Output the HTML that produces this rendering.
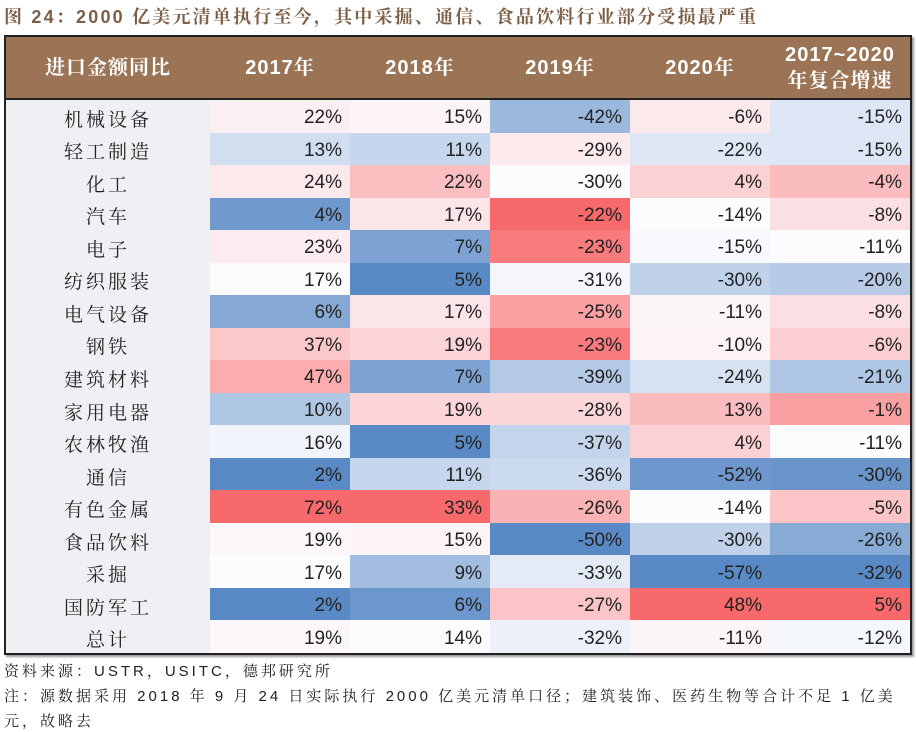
<!DOCTYPE html>
<html><head><meta charset="utf-8">
<style>
body{margin:0;width:916px;height:732px;background:#fff;font-family:"Liberation Sans","Noto Sans CJK SC",sans-serif;overflow:hidden;position:relative}
#title{position:absolute;left:4px;top:3px;font-size:18px;letter-spacing:2.2px;font-weight:bold;color:#7d5f47;white-space:nowrap;font-family:"Liberation Sans","Noto Serif CJK SC",serif}
#tbl{position:absolute;left:4px;top:35px;width:908px;height:620px;border:2px solid #222;box-sizing:border-box;box-shadow:2px 2px 2px #999}
.hdr{position:absolute;top:0;height:63px;background:#9b7355;border-bottom:2px solid #222;box-sizing:border-box}
.hc{position:absolute;top:0;height:61px;display:flex;align-items:center;justify-content:center;color:#fff;font-weight:bold;font-size:20px;text-align:center;line-height:26px;font-family:"Liberation Sans","Noto Serif CJK SC",serif;letter-spacing:1px}
.cell{position:absolute;display:flex;align-items:center;justify-content:flex-end;padding-right:8px;padding-top:4px;box-sizing:border-box;font-size:19px;color:#222}
.lab{position:absolute;display:flex;align-items:center;justify-content:center;padding-top:4px;box-sizing:border-box;font-size:19px;color:#222;background:#eef0f4;letter-spacing:3px;font-family:"Liberation Serif","Noto Serif CJK SC",serif}
.foot{position:absolute;left:4px;font-size:15px;letter-spacing:3px;color:#222;white-space:nowrap;font-family:"Liberation Sans","Noto Serif CJK SC",serif}
</style></head><body>
<div id="title">图 24：2000 亿美元清单执行至今，其中采掘、通信、食品饮料行业部分受损最严重</div>
<div id="tbl"></div>
<div class="foot" style="top:660px">资料来源：USTR，USITC，德邦研究所</div>
<div class="foot" style="top:685px">注：源数据采用 2018 年 9 月 24 日实际执行 2000 亿美元清单口径；建筑装饰、医药生物等合计不足 1 亿美</div>
<div class="foot" style="top:710px">元，故略去</div>
<script>
const headers=["进口金额同比","2017年","2018年","2019年","2020年","2017~2020<br>年复合增速"];
const categories=["机械设备","轻工制造","化工","汽车","电子","纺织服装","电气设备","钢铁","建筑材料","家用电器","农林牧渔","通信","有色金属","食品饮料","采掘","国防军工","总计"];
const y2017=[22,13,24,4,23,17,6,37,47,10,16,2,72,19,17,2,19];
const y2018=[15,11,22,17,7,5,17,19,7,19,5,11,33,15,9,6,14];
const y2019=[-42,-29,-30,-22,-23,-31,-25,-23,-39,-28,-37,-36,-26,-50,-33,-27,-32];
const y2020=[-6,-22,4,-14,-15,-30,-11,-10,-24,13,4,-52,-14,-30,-57,48,-11];
const cagr=[-15,-15,-4,-8,-11,-20,-8,-6,-21,-1,-11,-30,-5,-26,-32,5,-12];
const series=[y2017,y2018,y2019,y2020,cagr];
const tbl=document.getElementById('tbl');
const colX=[0,204,344,484,624,764,904];
const hdrH=63,rowH=(616-hdrH)/categories.length;
const hdr=document.createElement('div');hdr.className='hdr';hdr.style.left='0';hdr.style.width='904px';


tbl.appendChild(hdr);
headers.forEach((h,i)=>{const d=document.createElement('div');d.className='hc';d.style.left=colX[i]+'px';d.style.width=(colX[i+1]-colX[i])+'px';d.innerHTML=h;


hdr.appendChild(d);});
function median(a){const s=[...a].sort((x,y)=>x-y);const n=s.length;return n%2?s[(n-1)/2]:(s[n/2-1]+s[n/2])/2;}
const BLUE=[90,138,198],WHITE=[252,252,255],RED=[248,105,107];
function mix(a,b,t){return 'rgb('+a.map((v,i)=>Math.round(v+(b[i]-v)*t)).join(',')+')';}
function color(v,arr){const mn=Math.min(...arr),mx=Math.max(...arr),md=median(arr);
 if(v<=md)return mix(BLUE,WHITE,md===mn?1:(v-mn)/(md-mn));return mix(WHITE,RED,(v-md)/(mx-md));}
categories.forEach((c,r)=>{const top=hdrH+r*rowH;
 const l=document.createElement('div');l.className='lab';l.style.left='0';l.style.top=top+'px';l.style.width=colX[1]+'px';l.style.height=rowH+'px';l.textContent=c;
 
 
 tbl.appendChild(l);
 series.forEach((s,j)=>{const d=document.createElement('div');d.className='cell';d.style.left=colX[j+1]+'px';d.style.top=top+'px';d.style.width=(colX[j+2]-colX[j+1])+'px';d.style.height=rowH+'px';
  d.style.background=color(s[r],s);d.textContent=s[r]+'%';
  
  
  tbl.appendChild(d);});
});
</script>
</body></html>
